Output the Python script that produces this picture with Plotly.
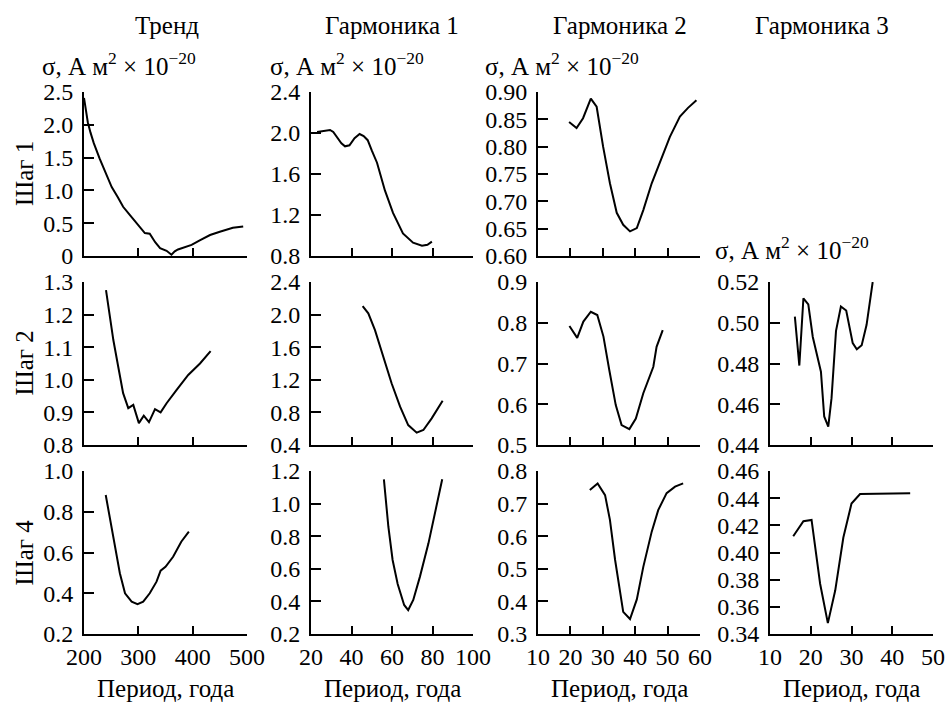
import plotly.graph_objects as go

# ---------------- data ----------------
col_titles = ["Тренд", "Гармоника 1", "Гармоника 2", "Гармоника 3"]
row_titles = ["Шаг 1", "Шаг 2", "Шаг 4"]
sigma_label = "σ, А м<sup>2</sup> × 10<sup>−20</sup>"
x_title = "Период, года"

# Тренд, Шаг 1
t1_x = [200, 204, 207, 212, 218, 229, 240, 251, 262, 272, 285, 297, 305, 312, 321, 331, 340, 352, 361, 367, 373, 386, 398, 413, 432, 450, 474, 493]
t1_y = [2.41, 2.2, 2.04, 1.88, 1.72, 1.48, 1.26, 1.05, 0.9, 0.75, 0.62, 0.5, 0.42, 0.35, 0.34, 0.21, 0.12, 0.08, 0.02, 0.07, 0.1, 0.14, 0.17, 0.24, 0.32, 0.37, 0.43, 0.45]
# Гармоника 1, Шаг 1
h1s1_x = [23, 26, 29.4, 31, 33, 35, 36.8, 39, 41.5, 44, 46, 48, 50, 52.6, 56.5, 60.5, 65.4, 70.4, 74.8, 77.5, 79.7]
h1s1_y = [2.01, 2.02, 2.03, 2.01, 1.96, 1.9, 1.87, 1.88, 1.95, 1.99, 1.97, 1.93, 1.83, 1.71, 1.44, 1.22, 1.02, 0.93, 0.9, 0.91, 0.94]
# Гармоника 2, Шаг 1
h2s1_x = [19.6, 21.9, 23.9, 26.3, 28.1, 30.1, 32.2, 34.3, 36.3, 38.4, 40.5, 42.5, 45.1, 48.2, 50.7, 53.8, 56.3, 58.9]
h2s1_y = [0.845, 0.834, 0.852, 0.888, 0.873, 0.80, 0.733, 0.679, 0.657, 0.645, 0.651, 0.684, 0.733, 0.782, 0.818, 0.855, 0.871, 0.885]
# Тренд, Шаг 2
t2_x = [240.5, 248, 254, 263, 272, 281.5, 290.7, 301, 310, 319.6, 330.7, 341, 352, 370.5, 391.8, 413.5, 433]
t2_y = [1.275, 1.193, 1.122, 1.04, 0.959, 0.913, 0.923, 0.867, 0.89, 0.87, 0.91, 0.90, 0.928, 0.969, 1.015, 1.05, 1.088]
# Гармоника 1, Шаг 2
h1s2_x = [45.5, 48.3, 51.6, 55.7, 59.8, 64, 68, 72.2, 75.5, 79.6, 85]
h1s2_y = [2.105, 2.016, 1.81, 1.48, 1.157, 0.87, 0.645, 0.551, 0.584, 0.727, 0.944]
# Гармоника 2, Шаг 2
h2s2_x = [19.7, 22.1, 24, 26.3, 28.3, 30.2, 32, 34, 35.8, 38.2, 40.2, 42.5, 45.6, 46.6, 48.5]
h2s2_y = [0.792, 0.763, 0.803, 0.827, 0.819, 0.766, 0.684, 0.598, 0.549, 0.539, 0.565, 0.627, 0.692, 0.741, 0.782]
# Гармоника 3, Шаг 2
h3s2_x = [16.1, 17.2, 18.2, 19.4, 20.5, 21.6, 22.5, 23.3, 24.3, 25.1, 26.2, 27.4, 28.7, 30.3, 31.3, 32.5, 33.7, 35.2]
h3s2_y = [0.503, 0.479, 0.512, 0.509, 0.493, 0.484, 0.476, 0.454, 0.449, 0.463, 0.496, 0.508, 0.506, 0.490, 0.487, 0.489, 0.499, 0.520]
# Тренд, Шаг 4
t4_x = [240, 248, 257, 266, 275.5, 287.7, 298.5, 309, 321, 333.5, 341, 350, 364, 379, 393]
t4_y = [0.882, 0.76, 0.628, 0.498, 0.40, 0.359, 0.347, 0.359, 0.40, 0.457, 0.511, 0.53, 0.579, 0.653, 0.702]
# Гармоника 1, Шаг 4
h1s4_x = [56, 58.2, 60.3, 62.8, 66, 68, 70.5, 73.8, 78, 81.2, 84.8]
h1s4_y = [1.149, 0.858, 0.654, 0.507, 0.378, 0.347, 0.409, 0.552, 0.756, 0.94, 1.149]
# Гармоника 2, Шаг 4
h2s4_x = [26, 28.4, 30.7, 32.2, 33.8, 36.3, 38.4, 40.5, 42.5, 45.1, 47.1, 49.7, 52.3, 54.8]
h2s4_y = [0.742, 0.762, 0.726, 0.65, 0.527, 0.368, 0.346, 0.406, 0.506, 0.614, 0.68, 0.732, 0.752, 0.762]
# Гармоника 3, Шаг 4
h3s4_x = [15.7, 18.2, 20.2, 22.3, 24.2, 26, 28, 30, 32.1, 40.3, 44.4]
h3s4_y = [0.412, 0.423, 0.424, 0.377, 0.348, 0.372, 0.411, 0.436, 0.443, 0.4437, 0.4437]

# tick values / labels
x_ticks = [[200, 300, 400, 500], [20, 40, 60, 80, 100], [10, 20, 30, 40, 50, 60], [10, 20, 30, 40, 50]]
y_t1 = [0, 0.5, 1.0, 1.5, 2.0, 2.5]
y_t1_lbl = ["0", "0.5", "1.0", "1.5", "2.0", "2.5"]
y_h1s1 = [0.8, 1.2, 1.6, 2.0, 2.4]
y_h2s1 = [0.60, 0.65, 0.70, 0.75, 0.80, 0.85, 0.90]
y_t2 = [0.8, 0.9, 1.0, 1.1, 1.2, 1.3]
y_h1s2 = [0.4, 0.8, 1.2, 1.6, 2.0, 2.4]
y_h2s2 = [0.5, 0.6, 0.7, 0.8, 0.9]
y_h3s2 = [0.44, 0.46, 0.48, 0.50, 0.52]
y_t4 = [0.2, 0.4, 0.6, 0.8, 1.0]
y_h1s4 = [0.2, 0.4, 0.6, 0.8, 1.0, 1.2]
y_h2s4 = [0.3, 0.4, 0.5, 0.6, 0.7, 0.8]
y_h3s4 = [0.34, 0.36, 0.38, 0.40, 0.42, 0.44, 0.46]

# ---------------- layout ----------------
W, H = 946, 706
FONT = "Liberation Serif"
FS = 24      # tick labels
FS_T = 25    # titles / annotations
cols_px = [(84, 247), (311, 473), (538, 700), (770, 933)]
rows_px = [(92, 256), (282, 445), (471, 634)]

panels = [
    (0, 0, t1_x, t1_y, y_t1, y_t1_lbl, "{:.1f}"),
    (0, 1, h1s1_x, h1s1_y, y_h1s1, None, "{:.1f}"),
    (0, 2, h2s1_x, h2s1_y, y_h2s1, None, "{:.2f}"),
    (1, 0, t2_x, t2_y, y_t2, None, "{:.1f}"),
    (1, 1, h1s2_x, h1s2_y, y_h1s2, None, "{:.1f}"),
    (1, 2, h2s2_x, h2s2_y, y_h2s2, None, "{:.1f}"),
    (1, 3, h3s2_x, h3s2_y, y_h3s2, None, "{:.2f}"),
    (2, 0, t4_x, t4_y, y_t4, None, "{:.1f}"),
    (2, 1, h1s4_x, h1s4_y, y_h1s4, None, "{:.1f}"),
    (2, 2, h2s4_x, h2s4_y, y_h2s4, None, "{:.1f}"),
    (2, 3, h3s4_x, h3s4_y, y_h3s4, None, "{:.2f}"),
]

fig = go.Figure()
layout = {}
for i, (r, c, xs, ys, yt, ylbl, fmt) in enumerate(panels):
    n = i + 1
    xa = "xaxis" if n == 1 else f"xaxis{n}"
    ya = "yaxis" if n == 1 else f"yaxis{n}"
    xr = "x" if n == 1 else f"x{n}"
    yr = "y" if n == 1 else f"y{n}"
    fig.add_trace(go.Scatter(x=xs, y=ys, mode="lines", xaxis=xr, yaxis=yr,
                             line=dict(color="black", width=2), showlegend=False,
                             hoverinfo="skip"))
    l, rr = cols_px[c]
    t, b = rows_px[r]
    xt = x_ticks[c]
    layout[xa] = dict(domain=[l / W, rr / W], anchor=yr, range=[xt[0], xt[-1]],
                      tickvals=xt, ticktext=[str(v) for v in xt], automargin=False,
                      showticklabels=(r == 2), ticks="inside", ticklen=8, tickwidth=2,
                      tickcolor="black", showline=True, linewidth=2, linecolor="black",
                      showgrid=False, zeroline=False,
                      tickfont=dict(family=FONT, size=FS, color="black"))
    lbl = ylbl if ylbl is not None else [fmt.format(v) for v in yt]
    layout[ya] = dict(domain=[1 - b / H, 1 - t / H], anchor=xr, range=[yt[0], yt[-1]],
                      tickvals=yt, ticktext=lbl, ticks="inside", ticklen=10, tickwidth=2,
                      tickcolor="black", showline=True, linewidth=2, linecolor="black",
                      showgrid=False, zeroline=False, ticklabelstandoff=4, automargin=False,
                      tickfont=dict(family=FONT, size=FS, color="black"))

ann = []
def add_text(text, px, py, xanchor="center", angle=0):
    ann.append(dict(text=text, x=px / W, y=1 - py / H, xref="paper", yref="paper",
                    xanchor=xanchor, yanchor="middle", showarrow=False, textangle=angle,
                    font=dict(family=FONT, size=FS_T, color="black")))

title_x = [167, 392, 620, 822]
for c, name in enumerate(col_titles):
    add_text(name, title_x[c], 26)
for px in [40, 268, 483]:
    add_text(sigma_label, px, 64, xanchor="left")
add_text(sigma_label, 713, 248, xanchor="left")
for r, name in enumerate(row_titles):
    t, b = rows_px[r]
    add_text(name, 24, (t + b) / 2, angle=-90)
for c in range(4):
    l, rr = cols_px[c]
    add_text(x_title, (l + rr) / 2, 688)

fig.update_layout(width=W, height=H, margin=dict(l=0, r=0, t=0, b=0, autoexpand=False),
                  paper_bgcolor="white", plot_bgcolor="white",
                  font=dict(family=FONT, size=FS, color="black"),
                  annotations=ann, **layout)

fig.write_html("out.html", config={"displayModeBar": False},
               post_script="document.body.style.margin='0';document.body.style.overflow='hidden';")
